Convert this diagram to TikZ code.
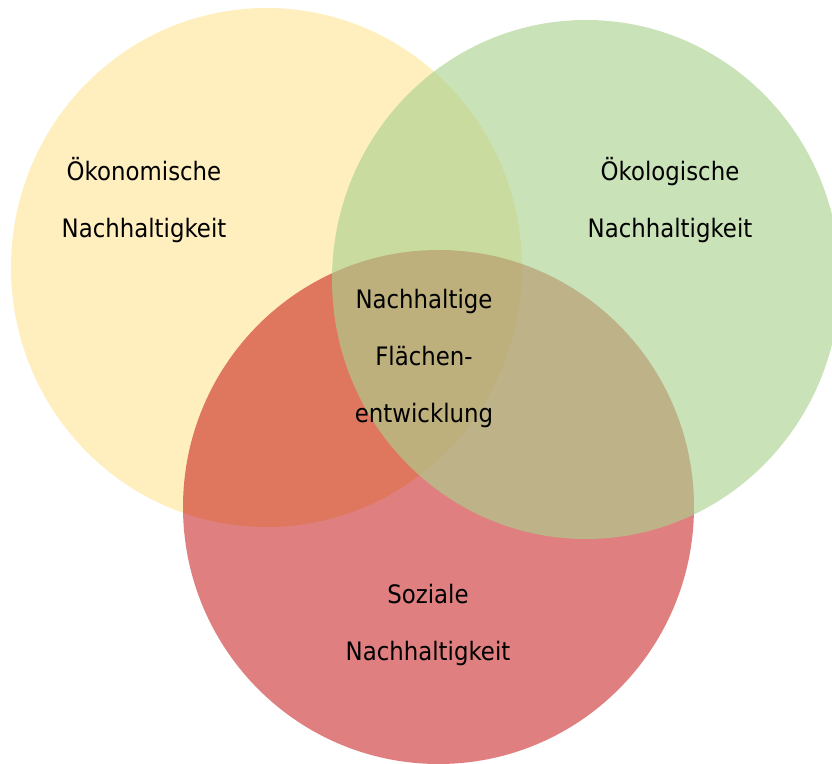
\documentclass[tikz,border=0pt]{standalone}
\usepackage{fontspec}
\setmainfont[FakeStretch=0.9]{DejaVu Sans}
\definecolor{econyellow}{RGB}{255,192,0}
\definecolor{socialred}{RGB}{192,0,0}
\definecolor{ecogreen}{RGB}{169,209,142}
\begin{document}
\begin{tikzpicture}[x=0.5pt, y=-0.5pt,
    econset/.style={fill=econyellow, fill opacity=0.25},
    socialset/.style={fill=socialred, fill opacity=0.5},
    ecoset/.style={fill=ecogreen, fill opacity=0.63},
    setlabel/.style={align=center, text=black,
        font=\fontsize{12.7}{28.5}\selectfont}]
    \clip (0, 0) rectangle (832, 764);

    % the three circles
    \fill[econset]
        (266.5, 267.5) ellipse [x radius=255.5, y radius=259.5];
    \fill[socialset]
        (438.5, 507) ellipse [x radius=255.5, y radius=257];
    \fill[ecoset]
        (586, 279.5) ellipse [x radius=254, y radius=259.5];

    \node[setlabel] (econ) at (144, 200) {Ökonomische\\Nachhaltigkeit};
    \node[setlabel] (eco) at (670, 200) {Ökologische\\Nachhaltigkeit};
    \node[setlabel] (core) at (424, 358)
        {Nachhaltige\\Flächen-\\entwicklung};
    \node[setlabel] (social) at (428, 625) {Soziale\\Nachhaltigkeit};
\end{tikzpicture}
\end{document}
